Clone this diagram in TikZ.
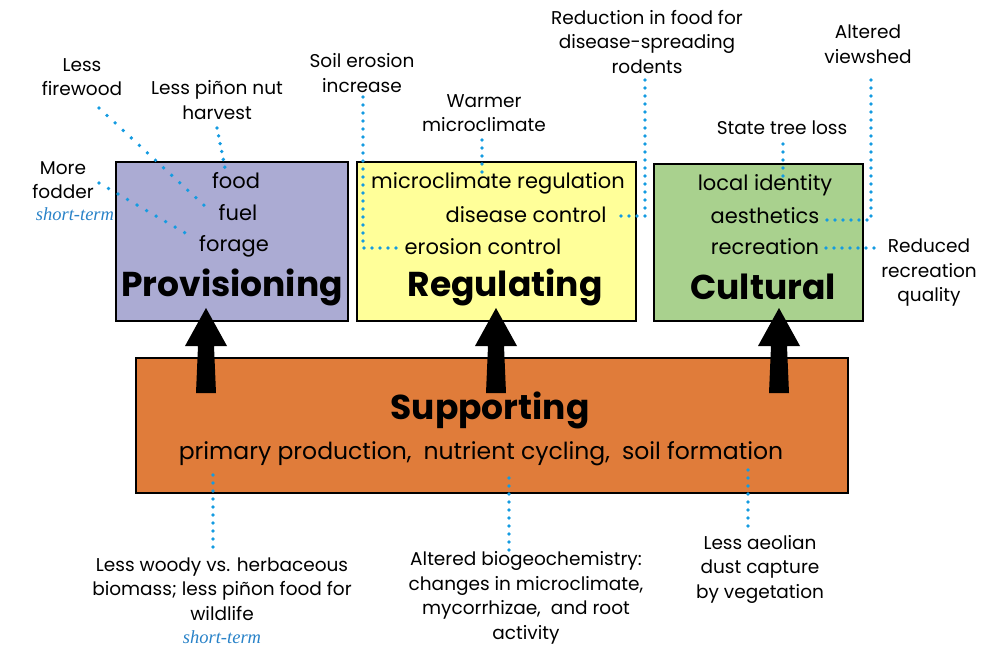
\documentclass[tikz,border=0pt]{standalone}
\usepackage{fontspec}
\setmainfont{Poppins}
\newfontfamily\stfont{Liberation Serif}
\definecolor{provc}{RGB}{171,171,211}
\definecolor{regc}{RGB}{255,255,153}
\definecolor{culc}{RGB}{169,209,142}
\definecolor{supc}{RGB}{224,124,58}
\definecolor{dotc}{RGB}{20,155,225}
\definecolor{stc}{RGB}{40,130,200}
\begin{document}
\begin{tikzpicture}[x=1pt,y=-1pt,
  txt/.style={font=\fontsize{18.5}{24.5}\selectfont, align=center, inner sep=0pt},
  item/.style={font=\fontsize{21}{24}\selectfont, inner sep=0pt},
  ttl/.style={font=\fontsize{34.5}{40}\selectfont\bfseries, inner sep=0pt},
  stx/.style={font=\stfont\itshape\fontsize{18.5}{22}\selectfont, text=stc, inner sep=0pt},
  boxs/.style={draw=black, line width=2.5pt},
  dotl/.style={draw=dotc, line width=3.8pt, line cap=round, dash pattern=on 0pt off 8pt},
  dotd/.style={dotl, dash pattern=on 0pt off 11pt},
  bigarrow/.style={fill=black}
]
\useasboundingbox (0,0) rectangle (992,648);
% boxes
\path[boxs, fill=provc] (116,162) rectangle (348,321);
\path[boxs, fill=regc] (357,162) rectangle (636,321);
\path[boxs, fill=culc] (654,164) rectangle (863,321);
\path[boxs, fill=supc] (136,358) rectangle (848,493);
% arrows
\foreach \ax in {206,496,779}{
  \fill[bigarrow] (\ax,308) -- (\ax+21,346) -- (\ax+8,346) -- (\ax+10,393) -- (\ax-10,393) -- (\ax-8,346) -- (\ax-21,346) -- cycle;
}
% titles
\node[ttl] (prov) at (232,287) {Provisioning};
\node[ttl] (reg) at (505,287) {Regulating};
\node[ttl] (cul) at (763,287) {Cultural};
\node[ttl] (sup) at (490,410) {Supporting};
\node[item, font=\fontsize{23.5}{26}\selectfont] (supitems) at (481,454) {primary production,\hspace{12pt}nutrient cycling,\hspace{12pt}soil formation};
% provisioning items
\node[item] (food) at (236,181) {food};
\node[item] (fuel) at (238,213) {fuel};
\node[item] (forage) at (234,246) {forage};
% regulating items
\node[item] (micro) at (498,183) {microclimate regulation};
\node[item] (disease) at (526,215) {disease control};
\node[item] (erosion) at (483,247) {erosion control};
% cultural items
\node[item] (ident) at (765,185) {local identity};
\node[item] (aest) at (765,216) {aesthetics};
\node[item] (recr) at (765,247) {recreation};
% annotations top
\node[txt] (firewood) at (82,77) {Less\\firewood};
\node[txt] (pinon) at (217,100) {Less piñon nut\\harvest};
\node[txt] (fodder) at (63,180) {More\\fodder};
\node[stx] (st1) at (75,214) {short-term};
\node[txt] (soil) at (362,73) {Soil erosion\\increase};
\node[txt] (warm) at (484,113) {Warmer\\microclimate};
\node[txt] (rodent) at (647,42) {Reduction in food for\\disease-spreading\\rodents};
\node[txt] (views) at (868,44) {Altered\\viewshed};
\node[txt] (state) at (782,128) {State tree loss};
\node[txt] (recq) at (929,273) {Reduced\\recreation\\quality};
% annotations bottom
\node[txt] (woody) at (222,589) {Less woody vs. herbaceous\\biomass; less piñon food for\\wildlife};
\node[stx] (st2) at (222,637) {short-term};
\node[txt] (bio) at (526,598) {Altered biogeochemistry:\\changes in microclimate,\\mycorrhizae,\ \ and root\\activity};
\node[txt] (aeol) at (760,569) {Less aeolian\\dust capture\\by vegetation};
% dotted connectors
\coordinate (c1) at (99,108);  \coordinate (c2) at (207,208);
\draw[dotd] (c1) -- (c2);
\coordinate (c3) at (99,183);  \coordinate (c4) at (194,238);
\draw[dotd] (c3) -- (c4);
\coordinate (c5) at (217,128); \coordinate (c6) at (225,168);
\draw[dotl] (c5) -- (c6);
\coordinate (c7) at (363,97); \coordinate (c8) at (363,248); \coordinate (c9) at (400,248);
\draw[dotl] (c7) -- (c8) -- (c9);
\coordinate (c10) at (482,140); \coordinate (c11) at (482,173);
\draw[dotl] (c10) -- (c11);
\coordinate (c12) at (645,80); \coordinate (c13) at (645,216); \coordinate (c14) at (615,216);
\draw[dotl] (c12) -- (c13) -- (c14);
\coordinate (c15) at (783,144); \coordinate (c16) at (783,176);
\draw[dotl] (c15) -- (c16);
\coordinate (c17) at (871,80); \coordinate (c18) at (871,220); \coordinate (c19) at (823,220);
\draw[dotl] (c17) -- (c18) -- (c19);
\coordinate (c20) at (826,248); \coordinate (c21) at (880,248);
\draw[dotl] (c20) -- (c21);
\coordinate (c22) at (213,475); \coordinate (c23) at (213,552);
\draw[dotl] (c22) -- (c23);
\coordinate (c24) at (509,478); \coordinate (c25) at (509,551);
\draw[dotl] (c24) -- (c25);
\coordinate (c26) at (748,470); \coordinate (c27) at (748,530);
\draw[dotl] (c26) -- (c27);
\end{tikzpicture}
\end{document}
